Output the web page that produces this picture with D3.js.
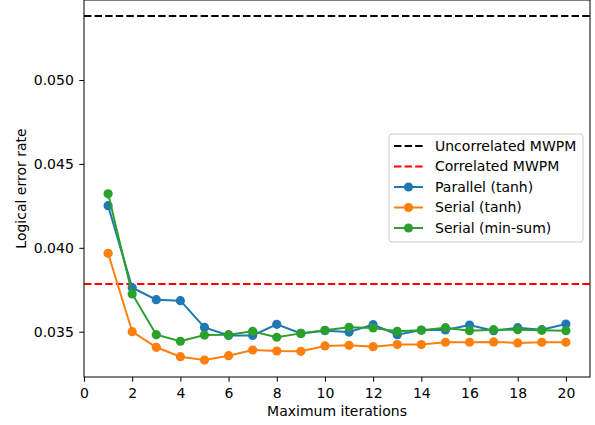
<!DOCTYPE html>
<html>
<head>
<meta charset="utf-8">
<script src="https://cdn.jsdelivr.net/npm/d3@7"></script>
<style>
  html, body { margin: 0; padding: 0; background: #fff; }
  svg { display: block; }
  svg text { font-family: "DejaVu Sans", sans-serif; font-size: 14px; fill: #000; }
</style>
</head>
<body>
<svg id="chart" width="595" height="425"></svg>
<script>
// Logical error rate vs. maximum BP iterations
const iterations = d3.range(1, 21);

const parallelTanh = [0.04251, 0.03762, 0.03691, 0.03685, 0.03526, 0.03478, 0.03478, 0.03544, 0.03490, 0.03506,
                      0.03498, 0.03542, 0.03482, 0.03510, 0.03510, 0.03540, 0.03506, 0.03524, 0.03512, 0.03546];
const serialTanh   = [0.03967, 0.03500, 0.03407, 0.03351, 0.03331, 0.03357, 0.03391, 0.03385, 0.03383, 0.03415,
                      0.03419, 0.03411, 0.03423, 0.03423, 0.03437, 0.03437, 0.03439, 0.03433, 0.03437, 0.03437];
const serialMinSum = [0.04322, 0.03725, 0.03482, 0.03443, 0.03480, 0.03482, 0.03502, 0.03467, 0.03490, 0.03508,
                      0.03526, 0.03522, 0.03502, 0.03508, 0.03524, 0.03506, 0.03512, 0.03512, 0.03508, 0.03506];

const uncorrelatedMWPM = 0.05381;
const correlatedMWPM = 0.03784;

const xTicks = [0, 2, 4, 6, 8, 10, 12, 14, 16, 18, 20];
const yTicks = [0.035, 0.040, 0.045, 0.050];

const series = [
  { name: "Parallel (tanh)", values: parallelTanh, color: "#1f77b4" },
  { name: "Serial (tanh)", values: serialTanh, color: "#ff7f0e" },
  { name: "Serial (min-sum)", values: serialMinSum, color: "#2ca02c" }
];
const refLines = [
  { name: "Uncorrelated MWPM", value: uncorrelatedMWPM, color: "#000000" },
  { name: "Correlated MWPM", value: correlatedMWPM, color: "#ff0000" }
];

const svg = d3.select("#chart");
const plot = { left: 84, right: 590, top: 0, bottom: 377 };

const x = d3.scaleLinear().domain([0, 21]).range([plot.left, plot.right]);
const y = d3.scaleLinear().domain([0.03230, 0.05477]).range([plot.bottom, plot.top]);

const g = svg.append("g");

// reference lines
refLines.forEach(r => {
  g.append("line")
    .attr("x1", plot.left).attr("x2", plot.right)
    .attr("y1", y(r.value)).attr("y2", y(r.value))
    .attr("stroke", r.color).attr("stroke-width", 2)
    .attr("stroke-dasharray", "7.4,3.2");
});

// series lines and markers
const line = d3.line().x((d, i) => x(iterations[i])).y(d => y(d));
series.forEach(s => {
  g.append("path")
    .attr("d", line(s.values))
    .attr("fill", "none").attr("stroke", s.color).attr("stroke-width", 2);
  g.selectAll(null).data(s.values).enter().append("circle")
    .attr("cx", (d, i) => x(iterations[i])).attr("cy", d => y(d))
    .attr("r", 4.6).attr("fill", s.color);
});

// frame
g.append("rect")
  .attr("x", plot.left).attr("y", plot.top)
  .attr("width", plot.right - plot.left).attr("height", plot.bottom - plot.top)
  .attr("fill", "none").attr("stroke", "#000").attr("stroke-width", 1);

// axes
const xAxis = d3.axisBottom(x).tickValues(xTicks).tickSize(4.7).tickPadding(6).tickFormat(d3.format("d"));
const yAxis = d3.axisLeft(y).tickValues(yTicks).tickSize(4.7).tickPadding(5.5).tickFormat(d3.format(".3f"));

svg.append("g").attr("transform", `translate(0,${plot.bottom})`).call(xAxis)
  .call(a => a.select(".domain").remove());
svg.append("g").attr("transform", `translate(${plot.left},0)`).call(yAxis)
  .call(a => a.select(".domain").remove());

svg.selectAll(".tick line").attr("stroke", "#000");

// axis titles
svg.append("text")
  .attr("x", (plot.left + plot.right) / 2).attr("y", 416)
  .attr("text-anchor", "middle")
  .text("Maximum iterations");
svg.append("text")
  .attr("transform", `translate(25.5,${(plot.top + plot.bottom) / 2}) rotate(-90)`)
  .attr("text-anchor", "middle")
  .text("Logical error rate");

// legend
const legend = svg.append("g").attr("transform", "translate(389,134)");
legend.append("rect")
  .attr("width", 194).attr("height", 108).attr("rx", 3)
  .attr("fill", "#fff").attr("fill-opacity", 0.8)
  .attr("stroke", "#cccccc").attr("stroke-width", 1);

const entries = refLines.map(r => ({ name: r.name, color: r.color, dashed: true }))
  .concat(series.map(s => ({ name: s.name, color: s.color, dashed: false })));

entries.forEach((e, i) => {
  const ey = 12 + i * 20.5;
  legend.append("line")
    .attr("x1", 5).attr("x2", 34).attr("y1", ey).attr("y2", ey)
    .attr("stroke", e.color).attr("stroke-width", 2)
    .attr("stroke-dasharray", e.dashed ? "7.4,3.2" : null);
  if (!e.dashed) {
    legend.append("circle").attr("cx", 19.5).attr("cy", ey).attr("r", 4.6).attr("fill", e.color);
  }
  legend.append("text")
    .attr("x", 46).attr("y", ey).attr("dy", "0.35em")
    .text(e.name);
});
</script>
</body>
</html>
